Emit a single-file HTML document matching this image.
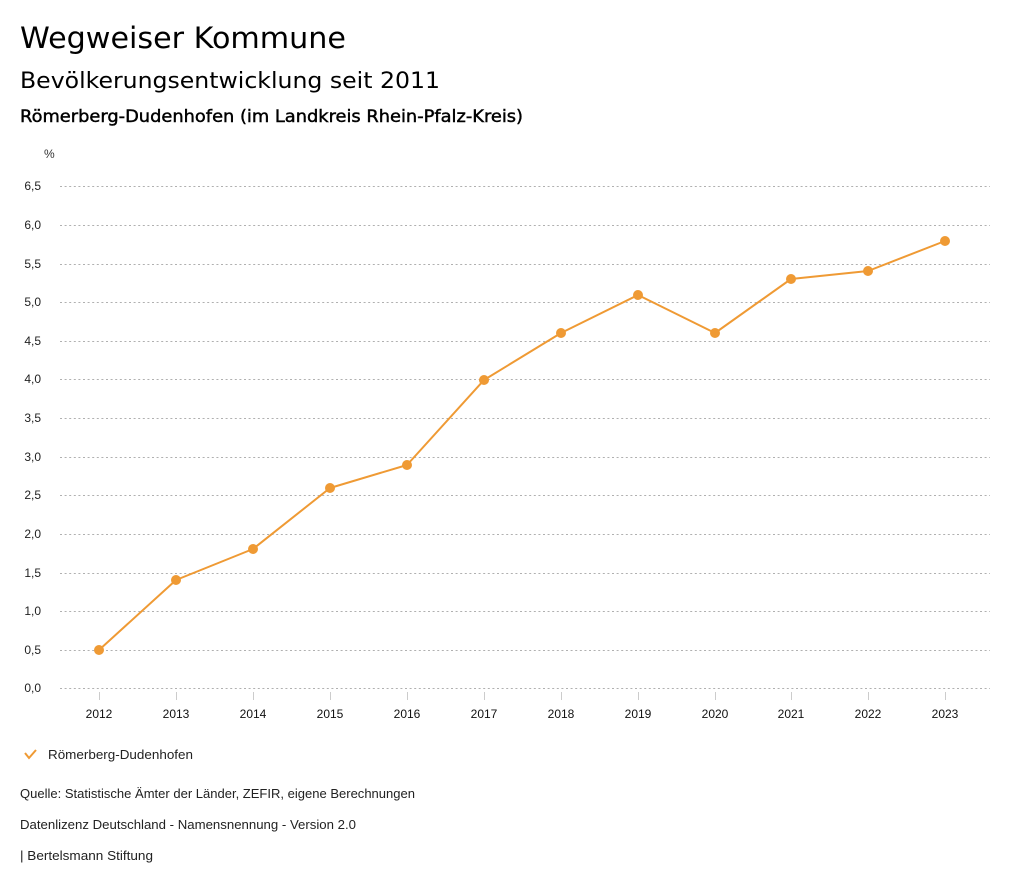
<!DOCTYPE html>
<html>
<head>
<meta charset="utf-8">
<style>
html,body{margin:0;padding:0;background:#fff;}
svg{display:block;}
</style>
</head>
<body>
<svg width="1024" height="888" viewBox="0 0 1024 888" xmlns="http://www.w3.org/2000/svg">
<rect width="1024" height="888" fill="#fff"/>
<text x="20" y="48" font-family="DejaVu Sans, sans-serif" font-size="29" fill="#000" textLength="326" lengthAdjust="spacingAndGlyphs">Wegweiser Kommune</text>
<text x="20" y="88" font-family="DejaVu Sans, sans-serif" font-size="22" fill="#000" textLength="420" lengthAdjust="spacingAndGlyphs">Bevölkerungsentwicklung seit 2011</text>
<text x="20" y="122" font-family="DejaVu Sans, sans-serif" font-size="17" fill="#000" stroke="#000" stroke-width="0.45" textLength="503" lengthAdjust="spacingAndGlyphs">Römerberg-Dudenhofen (im Landkreis Rhein-Pfalz-Kreis)</text>

<text x="44" y="158" font-family="Liberation Sans, sans-serif" font-size="12" fill="#333">%</text>

<g stroke="#b0b0b0" stroke-width="1" stroke-dasharray="2,2.6">
<line x1="60" x2="990" y1="186.5" y2="186.5"/>
<line x1="60" x2="990" y1="225.5" y2="225.5"/>
<line x1="60" x2="990" y1="264.5" y2="264.5"/>
<line x1="60" x2="990" y1="302.5" y2="302.5"/>
<line x1="60" x2="990" y1="341.5" y2="341.5"/>
<line x1="60" x2="990" y1="379.5" y2="379.5"/>
<line x1="60" x2="990" y1="418.5" y2="418.5"/>
<line x1="60" x2="990" y1="457.5" y2="457.5"/>
<line x1="60" x2="990" y1="495.5" y2="495.5"/>
<line x1="60" x2="990" y1="534.5" y2="534.5"/>
<line x1="60" x2="990" y1="573.5" y2="573.5"/>
<line x1="60" x2="990" y1="611.5" y2="611.5"/>
<line x1="60" x2="990" y1="650.5" y2="650.5"/>
<line x1="60" x2="990" y1="688.5" y2="688.5"/>
</g>

<g font-family="Liberation Sans, sans-serif" font-size="12" fill="#222" text-anchor="end">
<text x="41" y="190">6,5</text>
<text x="41" y="229">6,0</text>
<text x="41" y="268">5,5</text>
<text x="41" y="306">5,0</text>
<text x="41" y="345">4,5</text>
<text x="41" y="383">4,0</text>
<text x="41" y="422">3,5</text>
<text x="41" y="461">3,0</text>
<text x="41" y="499">2,5</text>
<text x="41" y="538">2,0</text>
<text x="41" y="577">1,5</text>
<text x="41" y="615">1,0</text>
<text x="41" y="654">0,5</text>
<text x="41" y="692">0,0</text>
</g>

<g stroke="#ccc" stroke-width="1">
<line x1="99.5" x2="99.5" y1="692" y2="700"/>
<line x1="176.5" x2="176.5" y1="692" y2="700"/>
<line x1="253.5" x2="253.5" y1="692" y2="700"/>
<line x1="330.5" x2="330.5" y1="692" y2="700"/>
<line x1="407.5" x2="407.5" y1="692" y2="700"/>
<line x1="484.5" x2="484.5" y1="692" y2="700"/>
<line x1="561.5" x2="561.5" y1="692" y2="700"/>
<line x1="638.5" x2="638.5" y1="692" y2="700"/>
<line x1="715.5" x2="715.5" y1="692" y2="700"/>
<line x1="791.5" x2="791.5" y1="692" y2="700"/>
<line x1="868.5" x2="868.5" y1="692" y2="700"/>
<line x1="945.5" x2="945.5" y1="692" y2="700"/>
</g>

<g font-family="Liberation Sans, sans-serif" font-size="12" fill="#111" text-anchor="middle">
<text x="99" y="718">2012</text>
<text x="176" y="718">2013</text>
<text x="253" y="718">2014</text>
<text x="330" y="718">2015</text>
<text x="407" y="718">2016</text>
<text x="484" y="718">2017</text>
<text x="561" y="718">2018</text>
<text x="638" y="718">2019</text>
<text x="715" y="718">2020</text>
<text x="791" y="718">2021</text>
<text x="868" y="718">2022</text>
<text x="945" y="718">2023</text>
</g>

<polyline fill="none" stroke="#EF9A34" stroke-width="2" stroke-linejoin="round"
points="99,650 176,580 253,549 330,488 407,465 484,380 561,333 638,295 715,333 791,279 868,271 945,241"/>
<g fill="#EF9A34">
<circle cx="99" cy="650" r="5"/>
<circle cx="176" cy="580" r="5"/>
<circle cx="253" cy="549" r="5"/>
<circle cx="330" cy="488" r="5"/>
<circle cx="407" cy="465" r="5"/>
<circle cx="484" cy="380" r="5"/>
<circle cx="561" cy="333" r="5"/>
<circle cx="638" cy="295" r="5"/>
<circle cx="715" cy="333" r="5"/>
<circle cx="791" cy="279" r="5"/>
<circle cx="868" cy="271" r="5"/>
<circle cx="945" cy="241" r="5"/>
</g>

<polyline fill="none" stroke="#EF9A34" stroke-width="2" points="25,753 29,758 36,750"/>
<text x="48" y="759" font-family="Liberation Sans, sans-serif" font-size="12.5" fill="#222" textLength="145" lengthAdjust="spacingAndGlyphs">Römerberg-Dudenhofen</text>

<g font-family="Liberation Sans, sans-serif" font-size="12.5" fill="#222">
<text x="20" y="798" textLength="395" lengthAdjust="spacingAndGlyphs">Quelle: Statistische Ämter der Länder, ZEFIR, eigene Berechnungen</text>
<text x="20" y="829" textLength="336" lengthAdjust="spacingAndGlyphs">Datenlizenz Deutschland - Namensnennung - Version 2.0</text>
<text x="20" y="860" textLength="133" lengthAdjust="spacingAndGlyphs">| Bertelsmann Stiftung</text>
</g>
</svg>
</body>
</html>
